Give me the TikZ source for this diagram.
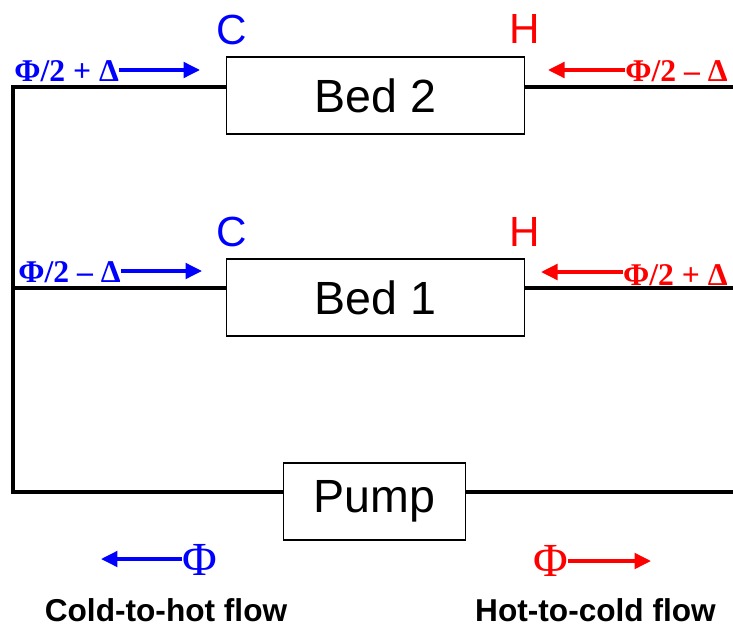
\documentclass[tikz,border=0pt]{standalone}
\usepackage{fontspec}
\setmainfont{Liberation Sans}
\newfontfamily\timesfont{Liberation Serif}
\usepackage{xcolor}
\usetikzlibrary{arrows.meta}
\definecolor{coldblue}{RGB}{0,0,255}
\definecolor{hotred}{RGB}{255,0,0}

\begin{document}
\begin{tikzpicture}[
  x=0.02cm, y=-0.02cm,
  unit/.style={rectangle, draw, line width=1.1pt, minimum width=5.96cm,
    minimum height=1.54cm, inner sep=0pt, font=\fontsize{26.5}{30}\selectfont},
  pipe/.style={line width=2.3pt, line join=miter},
  flow/.style={line width=2pt, -{Triangle[length=3.3mm, width=3.1mm]}},
  sidelabel/.style={inner sep=0pt, font=\timesfont\bfseries\fontsize{18}{20}\selectfont},
  endlabel/.style={anchor=base, inner sep=0pt, font=\fontsize{24}{28}\selectfont},
  fluxlabel/.style={inner sep=0pt, font=\timesfont\fontsize{27}{30}\selectfont},
  caption/.style={anchor=base, inner sep=0pt, font=\bfseries\fontsize{18}{20}\selectfont}
]
  \useasboundingbox (0,0) rectangle (733,625);

  % beds and pump
  \node[unit] (bed2) at (375.5, 95.5) {Bed 2};
  \node[unit] (bed1) at (375.5, 297.5) {Bed 1};
  \node[unit, minimum width=3.64cm] (pump) at (374.5, 501.5) {Pump};

  % piping
  \coordinate (top) at (13, 87);
  \coordinate (mid) at (13, 288);
  \coordinate (bot) at (13, 492);
  \coordinate (topout) at (733, 87);
  \coordinate (midout) at (733, 288);
  \coordinate (botout) at (733, 492);
  \draw[pipe] (bed2.west |- top) -- (top) -- (bot) -- (pump.west |- bot);
  \draw[pipe] (mid) -- (bed1.west |- mid);
  \draw[pipe] (bed2.east |- topout) -- (topout);
  \draw[pipe] (bed1.east |- midout) -- (midout);
  \draw[pipe] (pump.east |- botout) -- (botout);

  % cold and hot ends
  \node[endlabel, coldblue] (c2) at (231.5, 45) {C};
  \node[endlabel, hotred] (h2) at (525, 44) {H};
  \node[endlabel, coldblue] (c1) at (231.5, 246) {C};
  \node[endlabel, hotred] (h1) at (525, 246) {H};

  % flow rates at the beds
  \node[sidelabel, coldblue, anchor=base west] (in2) at (14, 82) {Φ/2 + Δ};
  \coordinate (in2tip) at (200, 70);
  \draw[flow, coldblue] (in2.east |- in2tip) -- (in2tip);
  \node[sidelabel, hotred, anchor=base east] (out2) at (728, 82) {Φ/2 – Δ};
  \coordinate (out2tip) at (548, 70);
  \draw[flow, hotred] (out2.west |- out2tip) -- (out2tip);

  \node[sidelabel, coldblue, anchor=base west] (in1) at (18, 282) {Φ/2 – Δ};
  \coordinate (in1tip) at (202, 271);
  \draw[flow, coldblue] (in1.east |- in1tip) -- (in1tip);
  \node[sidelabel, hotred, anchor=base east] (out1) at (728, 285) {Φ/2 + Δ};
  \coordinate (out1tip) at (541, 272);
  \draw[flow, hotred] (out1.west |- out1tip) -- (out1tip);

  % legend
  \node[fluxlabel, coldblue] (phicold) at (199.5, 560) {Φ};
  \coordinate (coldtip) at (101, 559);
  \draw[flow, coldblue] (phicold.west |- coldtip) -- (coldtip);
  \node[fluxlabel, hotred] (phihot) at (550.5, 561) {Φ};
  \coordinate (hottip) at (651, 561);
  \draw[flow, hotred] (phihot.east |- hottip) -- (hottip);
  \node[caption] (coldcap) at (166, 621) {Cold-to-hot flow};
  \node[caption] (hotcap) at (595.5, 621) {Hot-to-cold flow};
\end{tikzpicture}
\end{document}
